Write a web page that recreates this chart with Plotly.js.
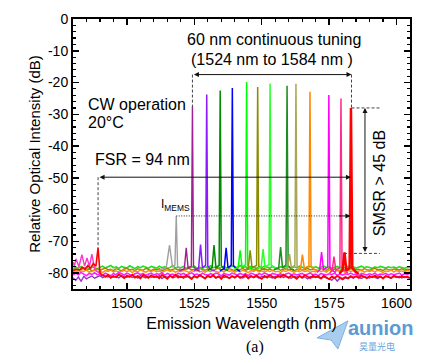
<!DOCTYPE html>
<html><head><meta charset="utf-8">
<script src="https://cdn.plot.ly/plotly-3.0.1.min.js"></script>
<style>html,body{margin:0;padding:0;background:#fff;}#chart{width:426px;height:360px;}</style>
</head><body><div id="chart"></div>
<script>
// ---------- data ----------
// noise floors, 1 nm steps starting at floorStart
const floorStart = 1480;
const floorGreen = [-78.6,-78.1,-78.4,-77.9,-78.5,-78.2,-78.7,-78.0,-78.3,-78.6,
-78.2,-77.8,-78.4,-78.1,-77.6,-78.3,-78.0,-78.5,-77.9,-78.2,
-78.4,-77.7,-78.1,-78.6,-78.0,-78.3,-77.8,-78.2,-78.5,-77.9,
-78.1,-78.4,-77.8,-78.3,-78.0,-78.6,-78.2,-77.7,-78.4,-78.1,
-78.3,-77.9,-78.5,-78.0,-78.2,-77.8,-78.4,-78.1,-78.6,-78.0,
-78.2,-77.7,-78.3,-78.0,-78.5,-78.1,-77.9,-78.4,-78.2,-77.8,
-78.0,-78.3,-77.6,-78.2,-78.0,-78.4,-77.9,-78.1,-78.5,-78.0,
-78.3,-77.8,-78.1,-78.4,-77.9,-78.2,-78.6,-78.0,-78.3,-77.9,
-78.1,-78.4,-78.0,-78.3,-77.8,-78.2,-78.5,-78.1,-77.9,-78.3,
-78.0,-78.4,-78.1,-77.8,-78.3,-78.0,-78.5,-78.2,-77.9,-78.4,
-78.1,-78.3,-77.9,-78.2,-78.0,-78.4,-78.1,-77.8,-78.3,-78.0,
-78.2,-78.5,-78.0,-78.3,-77.9,-78.2,-78.4,-78.0,-78.3,-78.1,
-78.4,-78.0,-78.2,-78.5,-78.1,-78.3];
const floorOlive = [-79.0,-78.6,-79.2,-78.8,-78.5,-79.1,-78.7,-79.3,-78.9,-78.6,
-79.1,-78.7,-78.4,-79.0,-78.8,-79.2,-78.6,-78.9,-79.3,-78.7,
-78.5,-79.0,-78.8,-79.2,-78.6,-78.9,-79.1,-78.5,-78.8,-79.2,
-78.7,-79.0,-78.6,-79.3,-78.8,-78.5,-79.1,-78.9,-78.6,-79.0,
-78.8,-79.2,-78.7,-78.5,-79.0,-78.8,-79.3,-78.6,-78.9,-79.1,
-78.6,-78.9,-79.2,-78.7,-78.5,-79.0,-78.8,-79.1,-78.6,-78.9,
-79.2,-78.7,-78.9,-78.5,-79.1,-78.8,-78.6,-79.0,-78.7,-79.3,
-78.8,-78.5,-79.0,-78.7,-79.2,-78.9,-78.6,-79.1,-78.8,-78.5,
-79.0,-78.7,-79.3,-78.8,-78.6,-79.1,-78.9,-78.5,-79.0,-78.7,
-78.9,-79.2,-78.6,-78.8,-79.1,-78.5,-79.0,-78.7,-78.9,-79.2,
-78.6,-78.9,-79.1,-78.7,-78.5,-79.0,-78.8,-79.2,-78.6,-78.9,
-79.1,-78.7,-78.5,-79.0,-78.8,-79.2,-78.6,-78.9,-79.1,-78.7,
-78.8,-79.0,-78.6,-79.1,-78.8,-78.9];
const floorOrange = [-79.6,-79.2,-79.8,-79.3,-79.5,-79.0,-79.7,-79.4,-79.1,-79.6,
-79.3,-79.8,-79.2,-79.5,-79.0,-79.6,-79.3,-79.7,-79.4,-79.1,
-79.5,-79.2,-79.8,-79.3,-79.6,-79.0,-79.4,-79.7,-79.2,-79.5,
-79.1,-79.6,-79.3,-79.8,-79.4,-79.0,-79.5,-79.2,-79.7,-79.3,
-79.6,-79.1,-79.4,-79.8,-79.2,-79.5,-79.0,-79.6,-79.3,-79.7,
-79.2,-79.5,-79.1,-79.4,-79.8,-79.3,-79.6,-79.0,-79.5,-79.2,
-79.7,-79.3,-79.6,-79.1,-79.4,-79.8,-79.2,-79.5,-79.0,-79.6,
-79.3,-79.7,-79.2,-79.5,-79.1,-79.6,-79.4,-79.8,-79.2,-79.5,
-79.0,-79.4,-79.7,-79.3,-79.6,-79.1,-79.5,-79.2,-79.8,-79.4,
-79.6,-79.1,-79.5,-79.3,-79.7,-79.0,-79.4,-79.6,-79.2,-79.5,
-79.3,-79.8,-79.1,-79.5,-79.2,-79.6,-79.4,-79.0,-79.7,-79.3,
-79.5,-79.2,-79.6,-79.1,-79.4,-79.8,-79.3,-79.5,-79.0,-79.6,
-79.2,-79.5,-79.3,-79.7,-79.1,-79.4];
const floorMagenta = [-80.6,-80.0,-80.5,-79.8,-80.3,-80.8,-80.1,-80.4,-79.9,-80.5,
-80.2,-80.7,-80.0,-80.4,-80.9,-80.1,-80.5,-79.8,-80.3,-80.6,
-80.0,-80.4,-80.8,-80.2,-79.9,-80.5,-80.1,-80.7,-80.3,-80.0,
-80.6,-80.2,-80.4,-79.9,-80.7,-80.1,-80.5,-80.3,-80.8,-80.0,
-80.4,-80.1,-80.6,-80.2,-79.9,-80.5,-80.3,-80.8,-80.0,-80.4,
-80.7,-80.2,-80.5,-80.0,-80.3,-80.9,-80.1,-80.4,-80.6,-80.0,
-80.3,-80.6,-80.1,-80.5,-80.2,-80.8,-80.0,-80.4,-80.7,-80.2,
-80.5,-80.0,-80.3,-80.7,-80.1,-80.4,-80.6,-80.2,-80.9,-80.3,
-80.0,-80.5,-80.2,-80.6,-80.3,-80.1,-80.7,-80.4,-80.0,-80.5,
-80.3,-80.8,-80.1,-80.4,-80.6,-80.2,-80.5,-80.0,-80.7,-80.3,
-80.6,-80.2,-80.4,-80.0,-80.5,-80.3,-80.8,-80.1,-80.4,-80.6,
-80.2,-80.5,-80.0,-80.7,-80.3,-80.4,-80.1,-80.6,-80.2,-80.5,
-80.3,-80.0,-80.6,-80.2,-80.4,-80.1];
const floorPurple = [-81.5,-82.3,-81.2,-82.6,-81.0,-81.8,-81.3,-80.9,-81.6,-81.1,
-80.8,-81.4,-80.9,-81.2,-80.7,-81.3,-81.0,-81.5,-80.8,-81.1,
-81.3,-80.9,-81.4,-81.0,-81.6,-80.8,-81.2,-81.5,-80.9,-81.3,
-81.0,-81.4,-80.8,-81.7,-81.1,-81.3,-80.9,-81.5,-81.2,-80.8,
-81.4,-81.0,-81.3,-80.9,-81.6,-81.1,-81.4,-80.8,-81.2,-81.5,
-81.0,-81.3,-80.9,-81.5,-81.2,-80.8,-81.4,-81.1,-81.6,-81.0,
-81.3,-80.9,-81.2,-81.5,-81.0,-81.4,-80.8,-81.3,-81.1,-81.6,
-81.0,-81.4,-80.9,-81.2,-81.5,-81.1,-81.3,-80.8,-81.4,-81.0,
-81.2,-81.6,-81.0,-81.3,-80.9,-81.5,-81.2,-81.8,-81.1,-81.4,
-81.0,-81.3,-81.7,-81.2,-81.5,-81.9,-82.2,-81.4,-82.5,-81.6,
-82.1,-81.5,-81.8,-81.2,-81.6,-81.0,-81.4,-81.7,-81.1,-81.3,
-81.5,-81.0,-81.4,-81.7,-81.2,-81.5,-81.0,-81.3,-81.6,-81.1,
-81.4,-81.0,-81.5,-81.2,-81.3,-81.6];
const redFloorStart = 1491;
const floorRed = [-80.5,-81.2,-80.6,-81.5,-80.9,-81.3,-80.4,-81.1,-81.6,-80.8,
-81.2,-80.5,-81.4,-80.9,-81.7,-80.6,-81.0,-81.5,-80.7,-81.3,
-80.9,-81.6,-80.6,-81.2,-81.8,-80.8,-81.3,-80.5,-81.4,-81.0,
-81.5,-80.7,-81.2,-81.9,-80.9,-81.4,-80.6,-81.1,-81.7,-80.8,
-81.3,-80.6,-81.5,-81.0,-81.8,-80.7,-81.2,-81.6,-80.9,-81.4,
-80.8,-81.5,-81.1,-80.6,-81.7,-81.0,-81.4,-80.7,-81.3,-81.8,
-80.9,-81.4,-80.6,-81.2,-81.6,-80.8,-81.3,-80.5,-81.1,-81.5,
-80.7,-81.2,-81.8,-80.9,-81.4,-80.6,-81.0,-81.6,-80.8,-81.3,
-81.0,-81.7,-80.8,-81.4,-81.9,-81.1,-81.5,-80.9,-81.3,-81.8,
-81.2,-81.6,-80.9,-81.4,-81.0,-81.5,-80.7,-81.2,-81.6,-80.9,
-81.3,-80.8,-81.4,-81.0,-81.7,-80.9,-81.3,-81.5,-80.8,-81.2,
-81.4,-80.9,-81.3,-81.1,-81.5];

// lasing spectra near each peak (wavelength nm, dB)
const s1524x = [1519.5,1521.3,1522.0,1522.7,1523.9,1524.3,1524.7,1526.0,1527.0];
const s1524y = [-79.3,-78.6,-72.0,-78.5,-77.8,-27.6,-78.0,-79.0,-79.4];
const s1530x = [1525.0,1526.6,1527.3,1528.0,1529.2,1529.6,1530.0,1531.2,1532.5];
const s1530y = [-79.2,-78.4,-71.0,-78.3,-77.5,-23.8,-77.8,-78.9,-79.3];
const s1535x = [1530.0,1531.6,1532.3,1533.0,1534.2,1534.6,1535.0,1536.3,1537.5];
const s1535y = [-79.1,-78.3,-71.2,-78.2,-77.6,-22.5,-77.7,-78.8,-79.2];
const s1539x = [1534.5,1536.1,1536.8,1537.5,1538.7,1539.1,1539.5,1540.8,1542.0];
const s1539y = [-79.3,-78.5,-72.0,-78.4,-77.5,-21.7,-77.6,-78.9,-79.4];
const s1544x = [1539.8,1541.3,1542.0,1542.7,1544.0,1544.4,1544.8,1546.0,1547.2];
const s1544y = [-78.8,-78.0,-72.8,-78.1,-77.4,-19.8,-77.5,-78.5,-78.9];
const s1548x = [1543.8,1545.0,1545.7,1546.4,1548.1,1548.5,1548.9,1550.1,1551.3];
const s1548y = [-79.0,-78.4,-72.8,-78.3,-77.6,-21.4,-77.7,-78.7,-79.0];
const s1553x = [1548.4,1549.8,1550.5,1551.2,1552.7,1553.1,1553.5,1554.7,1556.0];
const s1553y = [-78.7,-78.0,-72.4,-78.0,-77.3,-20.3,-77.4,-78.4,-78.8];
const s1559x = [1554.5,1556.3,1557.0,1557.7,1559.0,1559.4,1559.8,1561.0,1562.0];
const s1559y = [-79.0,-78.3,-71.8,-78.2,-77.5,-21.0,-77.6,-78.7,-79.0];
const s1563x = [1558.5,1559.6,1560.3,1561.0,1562.3,1562.7,1563.1,1564.3,1565.5];
const s1563y = [-79.0,-78.4,-74.0,-78.3,-77.6,-20.4,-77.7,-78.7,-79.0];
const s1568x = [1563.5,1564.4,1565.1,1565.8,1567.5,1567.9,1568.3,1569.5,1570.7];
const s1568y = [-79.3,-78.6,-74.2,-78.5,-77.7,-22.9,-77.8,-78.9,-79.3];
const s1575x = [1570.5,1571.5,1572.2,1572.9,1574.5,1574.9,1575.3,1576.5,1577.5];
const s1575y = [-79.8,-79.0,-73.4,-78.9,-78.0,-23.9,-78.1,-79.3,-79.8];
const s1579x = [1575.2,1576.1,1576.8,1577.5,1579.0,1579.4,1579.8,1581.0,1582.0];
const s1579y = [-80.0,-79.2,-74.8,-79.1,-78.2,-25.0,-78.3,-79.5,-80.0];
const s1583x = [1578.8,1580.0,1580.7,1581.4,1582.6,1583.1,1583.6,1584.8,1586.0];
const s1583y = [-80.2,-79.0,-73.5,-79.2,-78.3,-28.0,-78.4,-79.6,-80.3];
// MEMS peak (grey)
const memsX = [1512.0,1513.6,1514.6,1515.8,1516.9,1517.8,1518.3,1518.8,1520.0,1521.0];
const memsY = [-79.0,-78.5,-78.2,-71.2,-78.0,-77.5,-62.0,-78.0,-78.8,-79.0];
// short-wavelength modes (pink) and FSR peak (red)
const pinkX = [1480.0,1480.5,1481.1,1482.2,1483.3,1484.3,1485.2,1486.1,1487.0,1488.0,1489.0,1490.0];
const pinkY = [-76.5,-77.8,-75.5,-78.0,-74.2,-77.8,-75.2,-77.9,-74.0,-78.5,-79.5,-80.0];
const fsrX = [1480.0,1481.5,1482.5,1483.5,1484.5,1485.5,1486.5,1487.5,1488.5,1489.3,1490.0,1490.6,1491.0];
const fsrY = [-79.2,-78.8,-79.0,-78.2,-78.8,-77.6,-78.5,-77.0,-77.8,-72.0,-79.8,-80.6,-80.5];

const yTickVals = [-80,-70,-60,-50,-40,-30,-20,-10,0];
const yTickText = ['-80','-70','-60','-50','-40','-30','-20','-10','0'];

// ---------- traces ----------
const traces = [];
function floorTrace(y, x0, color, w) {
  return {type:'scatter', mode:'lines', x0:x0, dx:1, y:y, line:{color:color, width:w}, showlegend:false, hoverinfo:'skip'};
}
function specTrace(x, y, color, w) {
  return {type:'scatter', mode:'lines', x:x, y:y, line:{color:color, width:w}, showlegend:false, hoverinfo:'skip'};
}
traces.push(floorTrace(floorPurple, floorStart, '#9933cc', 1.4));
traces.push(floorTrace(floorGreen, floorStart, '#22dd22', 1.6));
traces.push(floorTrace(floorOlive, floorStart, '#8c8c00', 1.4));
traces.push(floorTrace(floorOrange, floorStart, '#ff8c00', 1.4));
traces.push(floorTrace(floorMagenta, floorStart, '#ff22ff', 1.6));
traces.push(floorTrace(floorRed, redFloorStart, '#ff0000', 1.8));

traces.push(specTrace(memsX, memsY, '#a0a0a0', 1.4));
traces.push(specTrace(s1524x, s1524y, '#a0208f', 1.4));
traces.push(specTrace(s1530x, s1530y, '#8c1aff', 1.5));
traces.push(specTrace(s1535x, s1535y, '#008a00', 1.5));
traces.push(specTrace(s1539x, s1539y, '#0000ff', 1.5));
traces.push(specTrace(s1544x, s1544y, '#00ff00', 1.5));
traces.push(specTrace(s1548x, s1548y, '#8c8c00', 1.5));
traces.push(specTrace(s1553x, s1553y, '#2aff2a', 1.5));
traces.push(specTrace(s1559x, s1559y, '#1e8c1e', 1.5));
traces.push(specTrace(s1563x, s1563y, '#a8a854', 1.5));
traces.push(specTrace(s1568x, s1568y, '#ff8800', 1.5));
traces.push(specTrace(s1575x, s1575y, '#ff00ff', 1.5));
traces.push(specTrace(s1579x, s1579y, '#ff2a8a', 1.5));
traces.push(specTrace(s1583x, s1583y, '#ff0000', 2.5));
traces.push(specTrace(pinkX, pinkY, '#ff33cc', 1.4));
traces.push(specTrace(fsrX, fsrY, '#ff0000', 1.6));

// ---------- annotations & shapes ----------
const dashLine = {color:'#444', width:1, dash:'3px,2px'};
const shapes = [
  {type:'line', xref:'x', yref:'y', x0:1524.3, x1:1524.3, y0:-17.5, y1:-28, line:dashLine},
  {type:'line', xref:'x', yref:'y', x0:1583.3, x1:1583.3, y0:-17.5, y1:-28, line:dashLine},
  {type:'line', xref:'x', yref:'y', x0:1583.3, x1:1593.8, y0:-28, y1:-28, line:dashLine},
  {type:'line', xref:'x', yref:'y', x0:1580.5, x1:1593.8, y0:-73.8, y1:-73.8, line:dashLine},
  {type:'line', xref:'x', yref:'y', x0:1489.3, x1:1489.3, y0:-49.8, y1:-72, line:dashLine},
  {type:'line', xref:'x', yref:'y', x0:1518.3, x1:1579, y0:-62, y1:-62, line:{color:'#222', width:1, dash:'1px,1.5px'}},
  {type:'path', xref:'paper', yref:'paper', path:'M 0.724 -0.181 L 0.816 -0.118 L 0.786 -0.222 L 0.766 -0.189 Z', fillcolor:'#a9cdee', line:{color:'#7fb0e0', width:1}}
];
function arrow(x, y, ax, ay, both) {
  return {xref:'x', yref:'y', axref:'x', ayref:'y', x:x, y:y, ax:ax, ay:ay, text:'', showarrow:true,
    arrowhead:2, startarrowhead:2, arrowside: both ? 'end+start' : 'end', arrowsize:1, arrowwidth:1, arrowcolor:'#111'};
}
function label(text, x, y, xanchor, size, extra) {
  return Object.assign({xref:'x', yref:'y', x:x, y:y, text:text, showarrow:false, xanchor:xanchor, yanchor:'middle', font:{size:size, color:'#000'}}, extra || {});
}
const annotations = [
  arrow(1583.3, -17.5, 1524.3, -17.5, true),
  arrow(1583.1, -49.8, 1489.3, -49.8, true),
  arrow(1588.3, -28, 1588.3, -73.8, true),
  arrow(1582.9, -62, 1578, -62, false),
  label('60 nm continuous tuning', 1554.4, -6.6, 'center', 16),
  label('(1524 nm to 1584 nm )', 1553.8, -12.9, 'center', 16),
  label('CW operation', 1484.9, -26.8, 'left', 16),
  label('20°C', 1484.9, -32.7, 'left', 16),
  label('FSR = 94 nm', 1487.5, -44.1, 'left', 16),
  label('I<sub>MEMS</sub>', 1511.8, -58.5, 'left', 12),
  label('SMSR > 45 dB', 1593.5, -51.7, 'center', 16, {textangle:-90}),
  {xref:'paper', yref:'paper', x:0.540, y:-0.215, text:'(a)', showarrow:false, xanchor:'center', yanchor:'middle', font:{family:'Liberation Serif, Times New Roman, serif', size:16, color:'#000'}},
  {xref:'paper', yref:'paper', x:0.914, y:-0.143, text:'<b>aunion</b>', showarrow:false, xanchor:'center', yanchor:'middle', borderpad:0, font:{size:20, color:'#5b9bd5'}},
  {xref:'paper', yref:'paper', x:0.902, y:-0.214, text:'昊量光电', showarrow:false, xanchor:'center', yanchor:'middle', borderpad:0, font:{family:'Noto Sans CJK SC', size:9, color:'#6aa6dc'}}
];

const layout = {
  width:426, height:360,
  margin:{l:73, r:16, t:19, b:71, pad:0},
  paper_bgcolor:'#ffffff', plot_bgcolor:'#ffffff',
  font:{family:'Liberation Sans, Arial, sans-serif', color:'#000', size:14},
  showlegend:false,
  xaxis:{range:[1480,1605], tick0:1500, dtick:25, ticks:'inside', ticklen:6, tickwidth:1.5, tickcolor:'#000',
    showline:true, linewidth:2, linecolor:'#000', mirror:'allticks', showgrid:false, zeroline:false,
    minor:{tick0:1500, dtick:5, ticks:'inside', ticklen:3, tickwidth:1.2, tickcolor:'#000', showgrid:false},
    tickfont:{size:14, color:'#000'},
    title:{text:'Emission Wavelength (nm)', font:{size:16, color:'#000'}, standoff:8}},
  yaxis:{range:[-85,0], tickmode:'array', tickvals:yTickVals, ticktext:yTickText, ticks:'inside', ticklen:6, tickwidth:1.5, tickcolor:'#000',
    showline:true, linewidth:2, linecolor:'#000', mirror:'allticks', showgrid:false, zeroline:false,
    minor:{tickmode:'linear', tick0:0, dtick:2, ticks:'inside', ticklen:3, tickwidth:1.2, tickcolor:'#000', showgrid:false},
    tickfont:{size:14, color:'#000'},
    title:{text:'Relative Optical Intensity (dB)', font:{size:15, color:'#000'}, standoff:4}},
  shapes:shapes,
  annotations:annotations
};

Plotly.newPlot('chart', traces, layout, {staticPlot:true, displayModeBar:false});
</script></body></html>
